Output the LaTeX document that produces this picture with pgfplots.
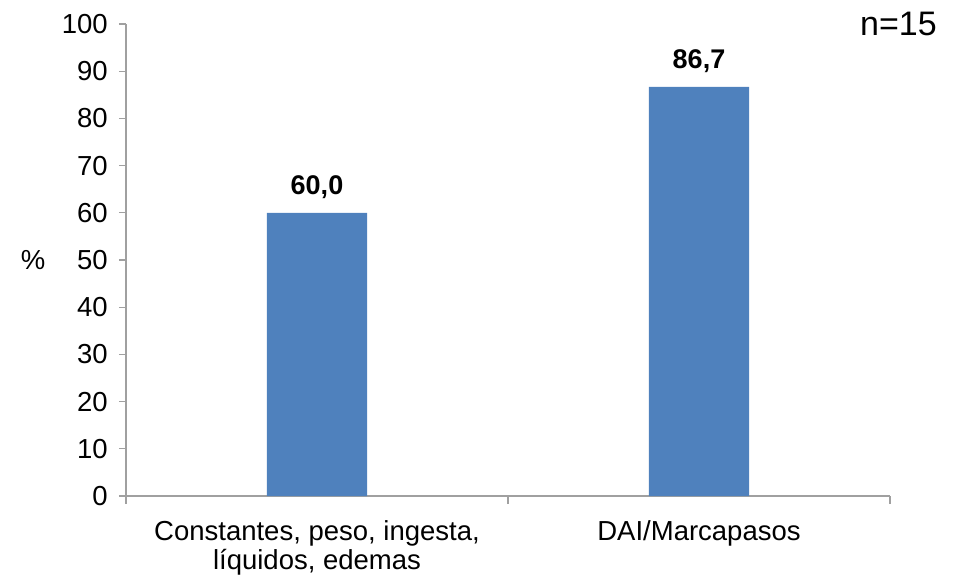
\documentclass[border=0pt]{standalone}
\usepackage{pgfplots}
\pgfplotsset{compat=1.18}
\usepackage{fontspec}
\setmainfont{Liberation Sans}
\definecolor{barblue}{HTML}{4F81BD}
\definecolor{axgray}{HTML}{A0A0A0}
\begin{document}
\fontsize{27.5}{29}\selectfont
\begin{tikzpicture}
\useasboundingbox (-126pt,-80pt) rectangle (836pt,496pt);
\begin{axis}[
  at={(0,0)}, anchor=south west,
  scale only axis, width=764pt, height=472pt,
  xmin=-0.5, xmax=1.5, ymin=0, ymax=100,
  axis x line*=bottom, axis y line*=left,
  axis line style={axgray, line width=1.3pt},
  ytick={0,10,...,100},
  xtick={0,1},
  xticklabels={{Constantes, peso, ingesta,\\líquidos, edemas},{DAI/Marcapasos}},
  xticklabel style={align=center, font=\fontsize{27.5}{29}\selectfont, yshift=-8pt},
  yticklabel style={font=\fontsize{27.5}{29}\selectfont, xshift=-2pt},
  /pgf/number format/assume math mode=true,
  tick align=outside,
  major tick length=7pt,
  ytick style={axgray, line width=1.3pt},
  xtick style={draw=none},
  extra x ticks={-0.5,0.5,1.5},
  extra x tick labels={},
  extra x tick style={xtick style={draw=axgray, line width=1.3pt}, major tick length=8pt},
  ylabel={\%},
  every axis y label/.style={at={(axis description cs:0,0.5)}, anchor=center, xshift=-93pt, font=\fontsize{27.5}{29}\selectfont},
  ybar, bar width=0.262,
  nodes near coords={\pgfmathprintnumber[fixed,fixed zerofill,precision=1,use comma]{\pgfplotspointmeta}},
  every node near coord/.append style={font=\bfseries\fontsize{27}{29}\selectfont, yshift=5pt},
  clip=false,
]
\addplot[fill=barblue, draw=none] coordinates {(0,60.0) (1,86.7)};
\node[anchor=base east, inner sep=0pt, font=\fontsize{34}{38}\selectfont] at (axis description cs:1,1) [xshift=47pt, yshift=-12pt] {n=15};
\end{axis}
\end{tikzpicture}
\end{document}
